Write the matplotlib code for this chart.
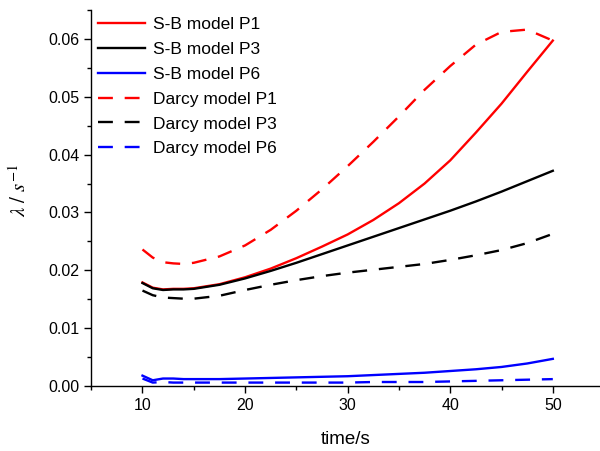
import matplotlib
matplotlib.use("Agg")
import matplotlib.pyplot as plt
from matplotlib.ticker import MultipleLocator, FormatStrFormatter

plt.rcParams['font.family'] = ['Liberation Sans', 'DejaVu Sans']
plt.rcParams['mathtext.fontset'] = 'stix'

# time (s)
t = [10, 11, 12, 13, 14, 15, 17.5, 20, 22.5, 25, 27.5, 30, 32.5, 35, 37.5, 40, 42.5, 45, 47.5, 50]

sb_p1 = [0.0179, 0.0170, 0.0167, 0.0168, 0.0168, 0.0169, 0.0176, 0.0188, 0.0203, 0.0221,
         0.0241, 0.0262, 0.0287, 0.0316, 0.0350, 0.0390, 0.0438, 0.0488, 0.0543, 0.0597]
sb_p3 = [0.0178, 0.0169, 0.0166, 0.0167, 0.0167, 0.0168, 0.0175, 0.0186, 0.0199, 0.0213,
         0.0228, 0.0243, 0.0258, 0.0273, 0.0288, 0.0303, 0.0319, 0.0336, 0.0354, 0.0372]
sb_p6 = [0.0018, 0.0010, 0.0013, 0.0013, 0.0012, 0.0012, 0.0012, 0.0013, 0.0014, 0.0015,
         0.0016, 0.0017, 0.0019, 0.0021, 0.0023, 0.0026, 0.0029, 0.0033, 0.0039, 0.0047]
da_p1 = [0.0236, 0.0222, 0.0214, 0.0212, 0.0211, 0.0213, 0.0224, 0.0243, 0.0270, 0.0303,
         0.0340, 0.0380, 0.0422, 0.0466, 0.0512, 0.0553, 0.0590, 0.0612, 0.0616, 0.0597]
da_p3 = [0.0165, 0.0157, 0.0153, 0.0152, 0.0151, 0.0151, 0.0156, 0.0166, 0.0175, 0.0183,
         0.0190, 0.0196, 0.0201, 0.0206, 0.0211, 0.0218, 0.0226, 0.0235, 0.0247, 0.0263]
da_p6 = [0.0013, 0.0006, 0.0007, 0.0006, 0.0006, 0.0006, 0.0006, 0.0006, 0.0006, 0.0006,
         0.0006, 0.0006, 0.0007, 0.0007, 0.0007, 0.0008, 0.0009, 0.0010, 0.0011, 0.0012]

fig = plt.figure(figsize=(6, 4.51), dpi=100)
ax = fig.add_axes([0.152, 0.144, 0.848, 0.834])

lw = 1.7
dash = (6.3, 5)
ax.plot(t, sb_p1, color='#ff0000', lw=lw, label='S-B model P1')
ax.plot(t, sb_p3, color='black', lw=lw, label='S-B model P3')
ax.plot(t, sb_p6, color='#0000ff', lw=lw, label='S-B model P6')
ax.plot(t, da_p1, color='#ff0000', lw=lw, ls=(0, dash), label='Darcy model P1')
ax.plot(t, da_p3, color='black', lw=lw, ls=(0, dash), label='Darcy model P3')
ax.plot(t, da_p6, color='#0000ff', lw=lw, ls=(0, dash), label='Darcy model P6')

ax.set_xlim(5, 54.6)
ax.set_ylim(0, 0.065)
ax.xaxis.set_major_locator(MultipleLocator(10))
ax.xaxis.set_minor_locator(MultipleLocator(5))
ax.yaxis.set_major_locator(MultipleLocator(0.01))
ax.yaxis.set_minor_locator(MultipleLocator(0.005))
ax.yaxis.set_major_formatter(FormatStrFormatter('%.2f'))
ax.tick_params(which='major', direction='out', length=5, width=1, labelsize=11.5)
ax.tick_params(which='minor', direction='out', length=3, width=1)

for s in ['top', 'right']:
    ax.spines[s].set_visible(False)
for s in ['left', 'bottom']:
    ax.spines[s].set_linewidth(1)

ax.set_xlabel('time/s', fontsize=13.5, labelpad=13)
ax.set_ylabel(r'$\lambda\ /\ s^{-1}$', fontsize=15, labelpad=9)
ax.yaxis.set_label_coords(-0.12, 0.52)

ax.legend(loc='upper left', frameon=False, fontsize=12.5, handlelength=2.7,
          handletextpad=0.45, labelspacing=0.56, borderaxespad=0.0,
          bbox_to_anchor=(0.0, 1.0))

fig.savefig('out.png', dpi=100)
